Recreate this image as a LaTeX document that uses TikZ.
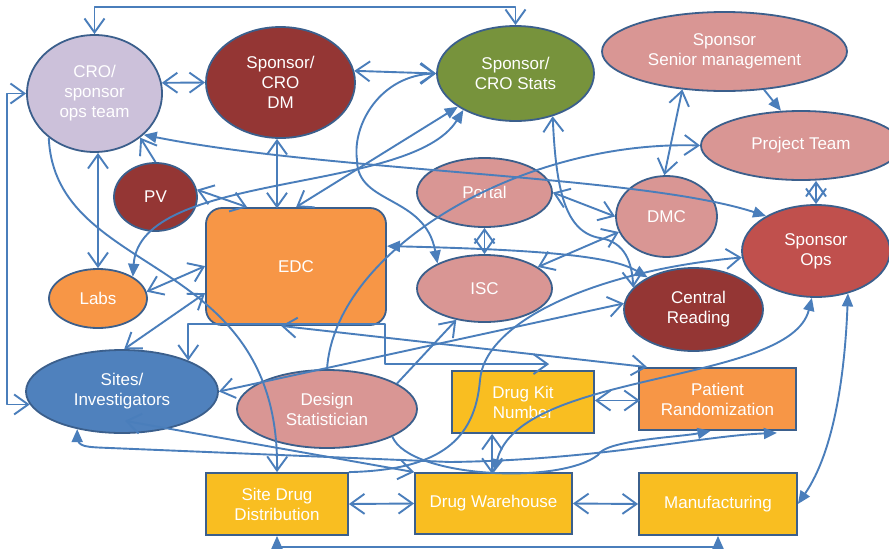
\documentclass[tikz,border=0pt]{standalone}
\usepackage{fontspec}
\setmainfont{Liberation Sans}
\usetikzlibrary{shapes.geometric,arrows.meta,calc}

\definecolor{lc}{HTML}{4A7EBB}
\definecolor{bd}{HTML}{3B5F8C}
\definecolor{cLav}{HTML}{CCC1DA}
\definecolor{cMaroon}{HTML}{943634}
\definecolor{cOlive}{HTML}{77933C}
\definecolor{cPink}{HTML}{D99694}
\definecolor{cRed}{HTML}{C0504D}
\definecolor{cBlue}{HTML}{4F81BD}
\definecolor{cOrange}{HTML}{F79646}
\definecolor{cGold}{HTML}{F9BE21}

\newcommand\dgfont{\fontsize{17}{20}\selectfont}

\begin{document}
\begin{tikzpicture}[x=1pt,y=-1pt,
  ell/.style={ellipse, draw=bd, line width=1.8pt, inner sep=0pt, text=white, align=center, font=\dgfont},
  box/.style={rectangle, draw=bd, line width=1.8pt, inner sep=0pt, text=white, align=center, font=\dgfont},
  con/.style={draw=lc, line width=1.9pt, line join=round},
  dbl/.style={con, {Straight Barb[length=14pt,width=20pt]}-{Straight Barb[length=14pt,width=20pt]}},
  sgl/.style={con, -{Straight Barb[length=14pt,width=20pt]}},
  dfl/.style={con, {Triangle[length=13pt,width=11pt]}-{Triangle[length=13pt,width=11pt]}},
  sfl/.style={con, -{Triangle[length=13pt,width=11pt]}},
  mix/.style={con, {Straight Barb[length=14pt,width=20pt]}-{Triangle[length=13pt,width=11pt]}}]

\useasboundingbox (0,0) rectangle (889,552);
\fill[white] (0,0) rectangle (889,552);

% ---- ellipses ----
\node[ell, fill=cLav, minimum width=135pt, minimum height=117pt] (cro) at (94.5,93.5) {CRO/\\sponsor\\ops team};
\node[ell, fill=cMaroon, minimum width=149pt, minimum height=111pt] (dm) at (280.5,82.5) {Sponsor/\\CRO\\DM};
\node[ell, fill=cOlive, minimum width=157pt, minimum height=95pt] (stats) at (515.5,73.5) {Sponsor/\\CRO Stats};
\node[ell, fill=cPink, minimum width=245pt, minimum height=79pt] (sm) at (724.5,51.5) {Sponsor\\Senior management};
\node[ell, fill=cPink, minimum width=200pt, minimum height=69pt] (pt) at (801,145.5) {Project Team};
\node[ell, fill=cMaroon, minimum width=83pt, minimum height=68pt] (pv) at (155.5,197) {PV};
\node[ell, fill=cPink, minimum width=135pt, minimum height=69pt] (portal) at (484.5,192.5) {Portal};
\node[ell, fill=cPink, minimum width=135pt, minimum height=67pt] (isc) at (484.5,288.5) {ISC};
\node[ell, fill=cPink, minimum width=101pt, minimum height=81pt] (dmc) at (666.5,216.5) {DMC};
\node[ell, fill=cRed, minimum width=148pt, minimum height=92pt] (sops) at (816,251) {Sponsor\\Ops};
\node[ell, fill=cMaroon, minimum width=139pt, minimum height=83pt] (cr) at (693.5,309.5) {\hspace*{10pt}Central\\\hspace*{10pt}Reading};
\node[ell, fill=cOrange, minimum width=98pt, minimum height=59pt] (labs) at (98,298.5) {Labs};
\node[ell, fill=cBlue, minimum width=192pt, minimum height=83pt] (sites) at (122,391.5) {Sites/\\Investigators};
\node[ell, fill=cPink, minimum width=180pt, minimum height=78pt] (ds) at (327,409) {Design\\Statistician};

% ---- boxes ----
\node[box, fill=cOrange, rounded corners=16pt, minimum width=180pt, minimum height=117pt] (edc) at (296,266.5) {EDC};
\node[box, fill=cGold, minimum width=142pt, minimum height=62pt] (dkn) at (523,402) {Drug Kit\\Number};
\node[box, fill=cOrange, minimum width=157pt, minimum height=62pt] (pr) at (717.5,399) {Patient\\Randomization};
\node[box, fill=cGold, minimum width=142pt, minimum height=62pt] (sdd) at (277,504) {Site Drug\\Distribution};
\node[box, fill=cGold, minimum width=157pt, minimum height=61pt] (dw) at (493.5,503.5) {Drug Warehouse};
\node[box, fill=cGold, minimum width=158pt, minimum height=62pt] (mfg) at (718,504) {Manufacturing};

% ---- connectors ----
\draw[dbl] (cro.north) -- ++(0,-27) -| (stats.north);
\draw[dbl] (cro.9) -- (dm.west);
\draw[dbl] (dm.9) -- (stats.west);
\draw[dbl] (sites.188) -| ([xshift=-19pt]cro.west) -- (cro.west);
\draw[dbl] (labs.north |- cro.south) -- (labs.north);
\draw[dbl] ([xshift=-3.5pt]dm.south) -- ++(0,69.5);
\draw[sgl] (pv.north) -- (cro.-44);
\draw[dfl] (cro.-40) .. controls (330,172) and (640,175) .. (sops.145);
\draw[dbl] (pv.10) -- ([xshift=42pt]edc.north west);
\draw[dbl] (labs.8) -- ([yshift=-59pt]edc.north west);
\draw[dbl] (sites.87) -- ([yshift=-86pt]edc.north west);
\draw[sgl] (cro.224) .. controls (55,280) and (280,250) .. (sdd.north);
\draw[dfl] (labs.32) .. controls (140,170) and (410,195) .. (stats.215);
\draw[mix] ([xshift=91pt]edc.north west) -- (stats.210);
\draw[dbl] (sites.25) |- ([xshift=-2pt,yshift=2pt]edc.south east) |- ([xshift=98pt,yshift=6pt]dkn.north west);
\draw[dbl] ([xshift=76pt]edc.south west) -- ([xshift=9pt]pr.north west);
\draw[dbl] (sites.east) -- (cr.175);
\draw[sgl] (ds.north) .. controls (335,250) and (520,140) .. (pt.west);
\draw[dfl] ([yshift=-39pt]edc.north east) .. controls (560,250) and (615,258) .. (cr.145);
\draw[dbl] (stats.-49) .. controls (556,190) and (565,232) .. (600,238) .. controls (625,242) and (632,262) .. (cr.160);
\draw[dbl] (portal.south) -- (isc.north);
\draw[dbl] (portal.east) -- (dmc.west);
\draw[dbl] (isc.22) -- (dmc.198);
\draw[dbl] (sm.222) -- (dmc.93);
\draw[sfl] (sm.-44) -- (pt.120);
\draw[dbl] (sops.north |- pt.south) -- (sops.north);
\draw[mix] (stats.west) .. controls (380,75) and (352,125) .. (357,160) .. controls (357,205) and (425,195) .. (isc.152);
\draw[sgl] (sdd.north east) .. controls (440,470) and (475,440) .. (480,380) .. controls (485,320) and (600,270) .. (sops.185);
\draw[dfl] (sops.265) .. controls (790,385) and (520,370) .. ([xshift=80pt]dw.north west);
\draw[dfl] (sops.-53) .. controls (845,370) and (835,450) .. (mfg.east);
\draw[dbl] ([yshift=1.5pt]dkn.east) -- ++(45,0);
\draw[dbl] ([xshift=41pt]dkn.south west) -- ++(0,40);
\draw[dbl] (sdd.east) -- (dw.west);
\draw[dbl] (dw.east) -- (mfg.west);
\draw[dfl] (sdd.south) -- ++(0,11) -| (mfg.south);
\draw[dfl] (sites.220) -- ++(0,8) .. controls (78,447) and (85,447) .. (110,448) -- (450,462) .. controls (600,460) and (700,436) .. ([xshift=-20pt,yshift=-2pt]pr.south east);
\draw[dbl] ([xshift=3pt,yshift=13pt]sites.south) -- (dw.north west);
\draw[sfl] (ds.-23) .. controls (410,478) and (560,485) .. (598,455) .. controls (605,440) and (680,437) .. ([xshift=-7pt]pr.south);
\draw[sgl] (ds.20) -- (isc.228);
\end{tikzpicture}
\end{document}
